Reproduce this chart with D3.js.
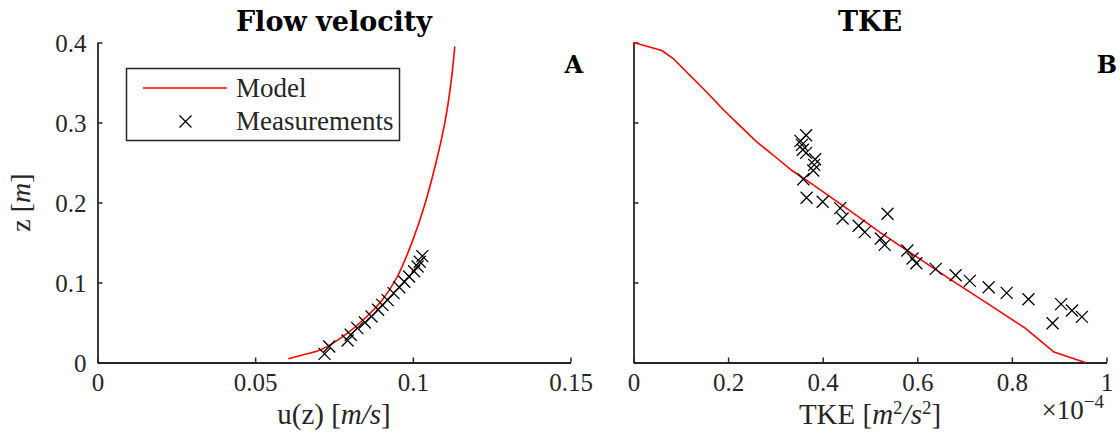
<!DOCTYPE html>
<html>
<head>
<meta charset="utf-8">
<script src="https://cdn.jsdelivr.net/npm/d3@7"></script>
<style>
  body { margin: 0; background: #fff; }
  svg { display: block; }
</style>
</head>
<body>
<svg id="chart" width="1120" height="448"></svg>
<script>
// ---- data -------------------------------------------------------------
// Panel A: velocity profile
const uModel  = [0.0605, 0.0655, 0.0708, 0.0780, 0.0854, 0.0903, 0.0951, 0.1000, 0.1036, 0.1073, 0.1103, 0.1122, 0.1133];
const zModelU = [0.0046, 0.0100, 0.0160, 0.0330, 0.0575, 0.0780, 0.1075, 0.1530, 0.1950, 0.2490, 0.3030, 0.3530, 0.3950];
const uMeas   = [0.0720, 0.0735, 0.0793, 0.0803, 0.0824, 0.0848, 0.0869, 0.0890, 0.0903, 0.0920, 0.0939, 0.0957, 0.0973, 0.0988, 0.1004, 0.1015, 0.1022, 0.1030];
const zMeasU  = [0.0108, 0.0200, 0.0275, 0.0346, 0.0430, 0.0500, 0.0575, 0.0660, 0.0720, 0.0780, 0.0867, 0.0940, 0.1010, 0.1075, 0.1140, 0.1200, 0.1260, 0.1330];

// Panel B: turbulent kinetic energy profile (x 1e-4)
const tkeModel = [0, 0.060, 0.084, 0.119, 0.153, 0.190, 0.223, 0.260, 0.299, 0.335, 0.374, 0.450, 0.519, 0.601, 0.677, 0.753, 0.828, 0.889, 0.955];
const zModelT  = [0.400, 0.390, 0.380, 0.359, 0.339, 0.316, 0.297, 0.276, 0.2575, 0.240, 0.2245, 0.193, 0.1635, 0.131, 0.101, 0.072, 0.043, 0.013, 0];
const tkeMeas  = [0.365, 0.353, 0.356, 0.358, 0.365, 0.384, 0.382, 0.380, 0.359, 0.366, 0.400, 0.437, 0.442, 0.476, 0.489, 0.523, 0.531, 0.537,
                  0.579, 0.590, 0.598, 0.639, 0.681, 0.711, 0.751, 0.789, 0.835, 0.904, 0.927, 0.948, 0.886];
const zMeasT   = [0.284, 0.277, 0.272, 0.266, 0.262, 0.254, 0.247, 0.240, 0.229, 0.206, 0.201, 0.193, 0.180, 0.171, 0.163, 0.155, 0.147, 0.186,
                  0.140, 0.130, 0.124, 0.117, 0.109, 0.102, 0.094, 0.087, 0.079, 0.073, 0.065, 0.057, 0.049];

// ticks
const uTicks   = [0, 0.05, 0.1, 0.15];
const uLabels  = ["0", "0.05", "0.1", "0.15"];
const tkeTicks = [0, 0.2, 0.4, 0.6, 0.8, 1];
const tkeLabels = ["0", "0.2", "0.4", "0.6", "0.8", "1"];
const zTicks   = [0, 0.1, 0.2, 0.3, 0.4];
const zLabels  = ["0", "0.1", "0.2", "0.3", "0.4"];

// ---- layout -----------------------------------------------------------
const svg = d3.select("#chart");
const AX = "#262626";
const SERIF = "'Liberation Serif', 'Times New Roman', serif";
const BOLD = "'DejaVu Serif', serif";
const TICK_FS = 25, LABEL_FS = 29, LEGEND_FS = 27;
const plotTop = 42.5, plotBottom = 362.5;
const panelA = { x0: 97.5, x1: 570.5 };
const panelB = { x0: 633.5, x1: 1106.5 };

const y = d3.scaleLinear().domain([0, 0.4]).range([plotBottom, plotTop]);
const xA = d3.scaleLinear().domain([0, 0.15]).range([panelA.x0, panelA.x1]);
const xB = d3.scaleLinear().domain([0, 1]).range([panelB.x0, panelB.x1]);

const crossPath = s => `M${-s},${-s}L${s},${s}M${-s},${s}L${s},${-s}`;

function drawAxes(x, ticks, labels, showY) {
  const gx = svg.append("g").attr("transform", `translate(0,${plotBottom})`)
    .call(d3.axisBottom(x).tickValues(ticks).tickSizeInner(-5).tickSizeOuter(0).tickPadding(0)
      .tickFormat((d, i) => labels[i]));
  gx.select(".domain").attr("stroke", AX).attr("stroke-width", 1.8);
  gx.selectAll(".tick line").attr("stroke", AX).attr("stroke-width", 1.5);
  gx.selectAll(".tick text").attr("fill", AX).attr("font-family", SERIF).attr("font-size", TICK_FS)
    .attr("y", 28).attr("dy", 0);

  const gy = svg.append("g").attr("transform", `translate(${x.range()[0]},0)`)
    .call(d3.axisLeft(y).tickValues(zTicks).tickSizeInner(-5).tickSizeOuter(0).tickPadding(11)
      .tickFormat((d, i) => showY ? zLabels[i] : ""));
  gy.select(".domain").attr("stroke", AX).attr("stroke-width", 1.8);
  gy.selectAll(".tick line").attr("stroke", AX).attr("stroke-width", 1.5);
  gy.selectAll(".tick text").attr("fill", AX).attr("font-family", SERIF).attr("font-size", TICK_FS)
    .attr("x", -11).attr("dy", "0.34em");
}

function drawModel(x, xs, zs, curve) {
  const line = d3.line().x(d => x(d[0])).y(d => y(d[1])).curve(curve);
  svg.append("path").datum(xs.map((v, i) => [v, zs[i]]))
    .attr("d", line).attr("fill", "none").attr("stroke", "#ff0000").attr("stroke-width", 1.6);
}

function drawMeas(x, xs, zs) {
  svg.append("g").selectAll("path").data(xs.map((v, i) => [v, zs[i]])).join("path")
    .attr("transform", d => `translate(${x(d[0])},${y(d[1])})`)
    .attr("d", crossPath(6)).attr("fill", "none").attr("stroke", "#000").attr("stroke-width", 1.3);
}

// ---- panel A ----------------------------------------------------------
drawAxes(xA, uTicks, uLabels, true);
drawModel(xA, uModel, zModelU, d3.curveCatmullRom);
drawMeas(xA, uMeas, zMeasU);

// ---- panel B ----------------------------------------------------------
drawAxes(xB, tkeTicks, tkeLabels, false);
drawModel(xB, tkeModel, zModelT, d3.curveLinear);
drawMeas(xB, tkeMeas, zMeasT);

// ---- titles and panel letters ----------------------------------------
svg.append("text").attr("x", (panelA.x0 + panelA.x1) / 2).attr("y", 31)
  .attr("text-anchor", "middle").attr("font-family", BOLD).attr("font-weight", "bold")
  .attr("font-size", 27).attr("fill", "#000").text("Flow velocity");
svg.append("text").attr("x", (panelB.x0 + panelB.x1) / 2).attr("y", 31)
  .attr("text-anchor", "middle").attr("font-family", BOLD).attr("font-weight", "bold")
  .attr("font-size", 27).attr("fill", "#000").text("TKE");
svg.append("text").attr("x", 583).attr("y", 73).attr("text-anchor", "end")
  .attr("font-family", BOLD).attr("font-weight", "bold").attr("font-size", 24).attr("fill", "#000").text("A");
svg.append("text").attr("x", 1117).attr("y", 73).attr("text-anchor", "end")
  .attr("font-family", BOLD).attr("font-weight", "bold").attr("font-size", 24).attr("fill", "#000").text("B");

// ---- axis labels ------------------------------------------------------
const xlA = svg.append("text").attr("x", (panelA.x0 + panelA.x1) / 2).attr("y", 424)
  .attr("text-anchor", "middle").attr("font-family", SERIF).attr("font-size", LABEL_FS).attr("fill", AX);
xlA.append("tspan").text("u(z) [");
xlA.append("tspan").attr("font-style", "italic").text("m/s");
xlA.append("tspan").text("]");

const xlB = svg.append("text").attr("x", (panelB.x0 + panelB.x1) / 2).attr("y", 424)
  .attr("text-anchor", "middle").attr("font-family", SERIF).attr("font-size", LABEL_FS).attr("fill", AX);
xlB.append("tspan").text("TKE [");
xlB.append("tspan").attr("font-style", "italic").text("m");
xlB.append("tspan").attr("font-size", 19).attr("dy", -10).text("2");
xlB.append("tspan").attr("font-style", "italic").attr("dy", 10).text("/s");
xlB.append("tspan").attr("font-size", 19).attr("dy", -10).text("2");
xlB.append("tspan").attr("dy", 10).text("]");

const exp = svg.append("text").attr("x", 1104).attr("y", 419)
  .attr("text-anchor", "end").attr("font-family", SERIF).attr("font-size", 27).attr("fill", AX);
exp.append("tspan").text("×10");
exp.append("tspan").attr("font-size", 19).attr("dy", -11).text("−4");

svg.append("text").attr("transform", `translate(30,${(plotTop + plotBottom) / 2}) rotate(-90)`)
  .attr("text-anchor", "middle").attr("font-family", SERIF).attr("font-size", 28).attr("fill", AX)
  .call(t => {
    t.append("tspan").text("z [");
    t.append("tspan").attr("font-style", "italic").text("m");
    t.append("tspan").text("]");
  });

// ---- legend -----------------------------------------------------------
const lg = svg.append("g");
lg.append("rect").attr("x", 126.5).attr("y", 68.5).attr("width", 273).attr("height", 72)
  .attr("fill", "#fff").attr("stroke", AX).attr("stroke-width", 1.5);
lg.append("line").attr("x1", 143).attr("x2", 227).attr("y1", 88).attr("y2", 88)
  .attr("stroke", "#ff0000").attr("stroke-width", 1.6);
lg.append("path").attr("transform", "translate(185.5,121.5)").attr("d", crossPath(6))
  .attr("fill", "none").attr("stroke", "#000").attr("stroke-width", 1.3);
lg.append("text").attr("x", 236).attr("y", 97).attr("font-family", SERIF).attr("font-size", LEGEND_FS)
  .attr("fill", AX).text("Model");
lg.append("text").attr("x", 236).attr("y", 130).attr("font-family", SERIF).attr("font-size", LEGEND_FS)
  .attr("fill", AX).text("Measurements");
</script>
</body>
</html>
